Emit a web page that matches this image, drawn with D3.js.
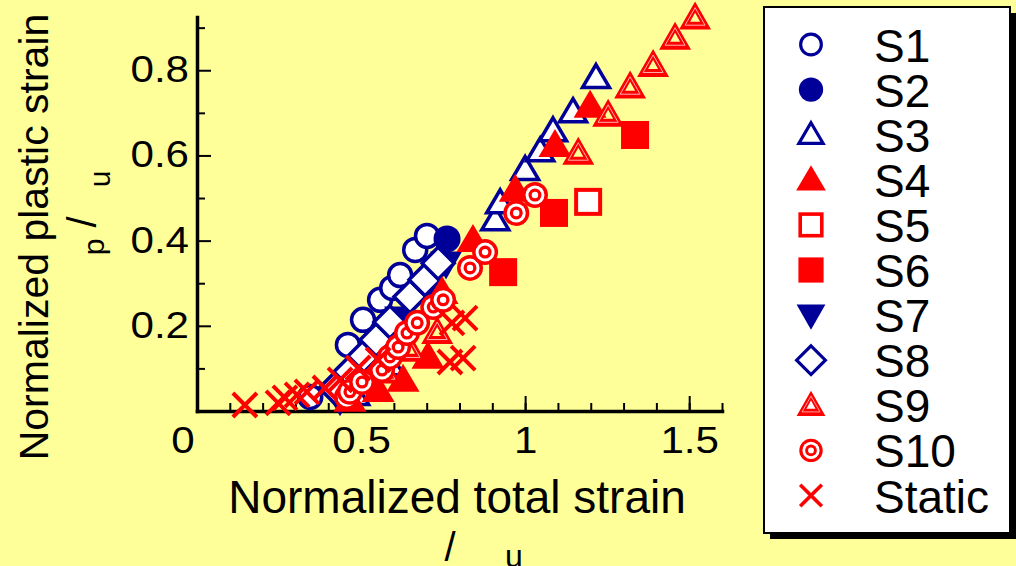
<!DOCTYPE html>
<html>
<head>
<meta charset="utf-8">
<script src="https://cdn.jsdelivr.net/npm/d3@7"></script>
<style>
body { margin: 0; background: #ffff99; }
svg { display: block; font-family: Arial, "Liberation Sans", sans-serif; }
</style>
</head>
<body>
<svg id="chart" width="1016" height="566"></svg>
<script>
// normalized total strain / normalized plastic strain
const s1 = [[0.345,0.033],[0.460,0.155],[0.506,0.214],[0.558,0.261],[0.595,0.289],[0.619,0.319],[0.665,0.378],[0.701,0.411]];
const s2 = [[0.762,0.404]];
const s3 = [[0.482,0.038],[0.588,0.108],[0.909,0.448],[0.924,0.488],[1.0,0.566],[1.046,0.610],[1.085,0.657],[1.146,0.702],[1.216,0.782]];
const s4 = [[0.466,0.026],[0.552,0.049],[0.628,0.073],[0.704,0.127],[0.747,0.279],[0.841,0.401],[0.970,0.519],[1.091,0.624],[1.198,0.716]];
const s5 = [[1.192,0.491]];
const s6 = [[0.933,0.326],[1.088,0.465],[1.335,0.648]];
const s7 = [[0.436,0.026],[0.534,0.143],[0.619,0.218],[0.695,0.284],[0.759,0.347]];
const s8 = [[0.421,0.054],[0.466,0.092],[0.509,0.129],[0.546,0.167],[0.588,0.209],[0.649,0.268],[0.695,0.308],[0.735,0.347]];
const s9 = [[0.573,0.092],[0.649,0.143],[0.732,0.185],[1.162,0.606],[1.253,0.695],[1.320,0.761],[1.390,0.812],[1.457,0.876],[1.518,0.923]];
const s10 = [[0.457,0.033],[0.466,0.045],[0.503,0.068],[0.564,0.096],[0.588,0.127],[0.613,0.150],[0.640,0.183],[0.671,0.207],[0.720,0.244],[0.750,0.261],[0.832,0.336],[0.878,0.373],[0.973,0.465],[1.030,0.507]];
const staticPts = [[0.146,0.014],[0.247,0.019],[0.268,0.031],[0.305,0.038],[0.335,0.045],[0.390,0.054],[0.436,0.073],[0.491,0.101],[0.552,0.120],[0.771,0.115],[0.777,0.207],[0.811,0.124],[0.817,0.218]];

const xMajor = [0.5, 1, 1.5];
const yMajor = [0.2, 0.4, 0.6, 0.8];
const legendNames = ["S1","S2","S3","S4","S5","S6","S7","S8","S9","S10","Static"];

const BLUE = "#000099", RED = "#ff0000", BG = "#ffff99";

const series = [
    {name: "S1", type: "circleOpen", data: s1},
    {name: "S3", type: "triOpen", data: s3},
    {name: "S7", type: "triDown", data: s7},
    {name: "S8", type: "diamond", data: s8},
    {name: "S2", type: "circleFilled", data: s2},
    {name: "S4", type: "triFilled", data: s4},
    {name: "S5", type: "squareOpen", data: s5},
    {name: "S6", type: "squareFilled", data: s6},
    {name: "S9", type: "triDouble", data: s9},
    {name: "S10", type: "target", data: s10},
    {name: "Static", type: "cross", data: staticPts}
];

const svg = d3.select("#chart");
svg.append("rect").attr("width", 1016).attr("height", 566).attr("fill", BG);

const x = d3.scaleLinear().domain([0, 1.6]).range([197, 722]);
const y = d3.scaleLinear().domain([0, 0.925]).range([411, 17]);

function stretch(sel, k) {
    sel.each(function() {
        const w = this.getComputedTextLength();
        d3.select(this).attr("textLength", w * k).attr("lengthAdjust", "spacingAndGlyphs");
    });
}

// minor ticks
svg.append("g")
    .attr("transform", `translate(0,${y(0)})`)
    .call(d3.axisBottom(x).tickValues(d3.range(1, 17).map(i => i / 10)).tickSize(-8).tickSizeOuter(0).tickFormat(""))
    .call(g => g.select(".domain").remove());
svg.append("g")
    .attr("transform", `translate(${x(0)},0)`)
    .call(d3.axisLeft(y).tickValues([0.1, 0.3, 0.5, 0.7, 0.9]).tickSize(-8).tickSizeOuter(0).tickFormat(""))
    .call(g => g.select(".domain").remove());

// major ticks + labels
const xAxis = svg.append("g")
    .attr("transform", `translate(0,${y(0)})`)
    .call(d3.axisBottom(x).tickValues(xMajor).tickSize(-15).tickSizeOuter(0).tickPadding(16).tickFormat(d3.format("")));
const yAxis = svg.append("g")
    .attr("transform", `translate(${x(0)},0)`)
    .call(d3.axisLeft(y).tickValues(yMajor).tickSize(-14).tickSizeOuter(0).tickPadding(8).tickFormat(d3.format("")));

svg.selectAll(".tick line").attr("stroke", "#000").attr("stroke-width", 2);
svg.selectAll(".domain").attr("stroke", "#000").attr("stroke-width", 3.5).attr("stroke-linecap", "square");
svg.selectAll(".tick text").attr("font-size", 36).attr("fill", "#000").attr("font-family", "Arial, 'Liberation Sans', sans-serif");
stretch(svg.selectAll(".tick text"), 1.17);

// shared origin label
svg.append("text")
    .attr("x", x(0) - 14).attr("y", y(0) + 16).attr("dy", "0.71em")
    .attr("text-anchor", "middle").attr("font-size", 36)
    .text("0").call(stretch, 1.17);

// axis titles (the epsilon glyphs were lost in the original, only / and subscripts remain)
svg.append("text")
    .attr("x", 457).attr("y", 513)
    .attr("text-anchor", "middle").attr("font-size", 46)
    .text("Normalized total strain");
svg.append("text").attr("x", 450).attr("y", 561).attr("text-anchor", "middle").attr("font-size", 40).text("/");
svg.append("text").attr("x", 514).attr("y", 567).attr("text-anchor", "middle").attr("font-size", 32).text("u");

svg.append("text")
    .attr("transform", "translate(48,237) rotate(-90)")
    .attr("text-anchor", "middle").attr("font-size", 41)
    .text("Normalized plastic strain");
svg.append("text").attr("transform", "translate(96,222) rotate(-90)").attr("text-anchor", "middle").attr("font-size", 40).text("/");
svg.append("text").attr("transform", "translate(104,247) rotate(-90)").attr("text-anchor", "middle").attr("font-size", 30).text("p");
svg.append("text").attr("transform", "translate(110,179) rotate(-90)").attr("text-anchor", "middle").attr("font-size", 30).text("u");

// marker shapes
function triPath(w, h, down) {
    const s = down ? -1 : 1;
    return `M0,${-s * h * 0.58}L${w / 2},${s * h * 0.42}L${-w / 2},${s * h * 0.42}Z`;
}

function drawMarker(g, type) {
    if (type === "circleOpen") {
        g.append("circle").attr("r", 11.5).attr("fill", "#fff").attr("stroke", BLUE).attr("stroke-width", 3.5);
    } else if (type === "circleFilled") {
        g.append("circle").attr("r", 13.5).attr("fill", BLUE);
    } else if (type === "triOpen") {
        g.append("path").attr("d", triPath(27, 23)).attr("fill", "#fff").attr("stroke", BLUE).attr("stroke-width", 3.5).attr("stroke-linejoin", "miter");
    } else if (type === "triFilled") {
        g.append("path").attr("d", triPath(33, 28)).attr("fill", RED);
    } else if (type === "triDown") {
        g.append("path").attr("d", triPath(32, 28, true)).attr("fill", BLUE);
    } else if (type === "squareOpen") {
        g.append("rect").attr("x", -12).attr("y", -12).attr("width", 24).attr("height", 24)
            .attr("fill", "#fff").attr("stroke", RED).attr("stroke-width", 4);
    } else if (type === "squareFilled") {
        g.append("rect").attr("x", -14).attr("y", -14).attr("width", 28).attr("height", 28).attr("fill", RED);
    } else if (type === "diamond") {
        g.append("path").attr("d", "M0,-16L16,0L0,16L-16,0Z").attr("fill", "#fff").attr("stroke", BLUE).attr("stroke-width", 3.5);
    } else if (type === "triDouble") {
        g.append("path").attr("d", triPath(32, 28) + triPath(10, 9))
            .attr("fill", RED).attr("fill-rule", "evenodd");
        g.append("path").attr("d", triPath(20, 17.5)).attr("fill", "none").attr("stroke", "#ffb0b0").attr("stroke-width", 1);
    } else if (type === "target") {
        g.append("circle").attr("r", 13).attr("fill", RED);
        g.append("circle").attr("r", 9.5).attr("fill", "#fff");
        g.append("circle").attr("r", 6.5).attr("fill", RED);
        g.append("circle").attr("r", 3.2).attr("fill", "#fff");
    } else if (type === "cross") {
        g.append("path").attr("d", "M-12,-12L12,12M12,-12L-12,12").attr("stroke", RED).attr("stroke-width", 4).attr("fill", "none");
    }
}

// points
series.forEach(s => {
    svg.append("g").attr("class", "series-" + s.name)
        .selectAll("g")
        .data(s.data)
        .enter().append("g")
        .attr("transform", d => `translate(${x(d[0])},${y(d[1])})`)
        .each(function() { drawMarker(d3.select(this), s.type); });
});

// legend
const legend = svg.append("g");
legend.append("rect").attr("x", 770).attr("y", 13).attr("width", 246).attr("height", 526).attr("fill", "#000");
legend.append("rect").attr("x", 764).attr("y", 7).attr("width", 246).attr("height", 526)
    .attr("fill", "#fff").attr("stroke", "#000").attr("stroke-width", 2);

legendNames.forEach((name, i) => {
    const s = series.find(d => d.name === name);
    const cy = 44.5 + i * 45.1;
    const g = legend.append("g").attr("transform", `translate(811,${cy}) scale(0.9)`);
    drawMarker(g, s.type);
    legend.append("text")
        .attr("x", 874).attr("y", cy + 17)
        .attr("font-size", 46)
        .text(name);
});
</script>
</body>
</html>
